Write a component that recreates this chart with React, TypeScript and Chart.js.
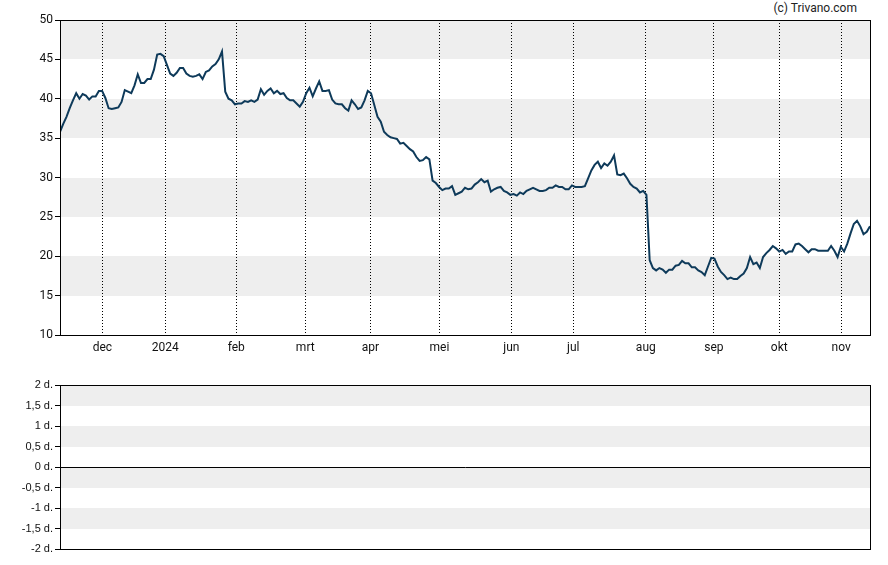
import React, { useEffect, useRef } from "react";
import { Chart, registerables } from "chart.js";

Chart.register(...registerables);

// Closing prices, one per trading day
const prices = [
  35.8, 36.8, 37.7, 38.8, 39.8, 40.7, 40.0, 40.6, 40.4, 39.9,
  40.3, 40.3, 41.0, 41.0, 40.1, 38.8, 38.7, 38.8, 38.9, 39.6,
  41.1, 40.9, 40.7, 41.7, 43.1, 42.0, 42.0, 42.5, 42.5, 43.7,
  45.6, 45.7, 45.4, 44.3, 43.2, 42.9, 43.3, 43.9, 43.9, 43.2,
  42.9, 42.8, 42.9, 43.1, 42.5, 43.4, 43.6, 44.1, 44.4, 45.0,
  46.0, 40.9, 40.0, 39.8, 39.3, 39.4, 39.4, 39.7, 39.6, 39.8,
  39.6, 39.9, 41.2, 40.5, 41.0, 41.3, 40.7, 41.0, 40.6, 40.7,
  40.1, 39.8, 39.8, 39.4, 39.0, 39.6, 40.7, 41.4, 40.3, 41.3,
  42.2, 41.0, 41.0, 41.1, 39.9, 39.4, 39.3, 39.3, 38.8, 38.5,
  39.8, 39.3, 38.7, 38.9, 39.8, 41.0, 40.7, 39.2, 37.7, 37.1,
  35.8, 35.4, 35.1, 35.0, 34.9, 34.3, 34.4, 34.0, 33.6, 33.3,
  32.6, 32.1, 32.2, 32.6, 32.3, 29.6, 29.3, 28.8, 28.4, 28.6,
  28.6, 28.9, 27.8, 28.0, 28.2, 28.7, 28.5, 28.6, 29.1, 29.4,
  29.8, 29.4, 29.6, 28.2, 28.5, 28.7, 28.8, 28.3, 28.1, 27.8,
  27.9, 27.7, 28.1, 27.9, 28.3, 28.5, 28.7, 28.5, 28.3, 28.3,
  28.4, 28.7, 28.7, 29.0, 28.8, 28.8, 28.5, 28.5, 29.0, 28.8,
  28.8, 28.8, 28.9, 29.9, 30.9, 31.6, 32.0, 31.2, 31.8, 31.5,
  32.0, 32.8, 30.4, 30.3, 30.5, 29.9, 29.2, 28.8, 28.6, 28.1,
  28.3, 27.8, 19.5, 18.5, 18.2, 18.5, 18.3, 17.9, 18.3, 18.3,
  18.8, 18.9, 19.4, 19.1, 19.1, 18.6, 18.6, 18.2, 18.0, 17.6,
  18.7, 19.8, 19.7, 18.7, 18.0, 17.6, 17.1, 17.3, 17.1, 17.1,
  17.5, 17.8, 18.5, 19.9, 19.0, 19.2, 18.5, 19.9, 20.4, 20.8,
  21.3, 21.0, 20.6, 20.8, 20.3, 20.6, 20.6, 21.5, 21.6, 21.3,
  20.9, 20.5, 20.9, 20.9, 20.7, 20.7, 20.7, 20.7, 21.3, 20.7,
  19.9, 21.2, 20.6, 21.6, 22.9, 24.1, 24.5, 23.8, 22.8, 23.1,
  23.8,
];

// Month boundaries (trading-day index) and their labels
const monthTickPos = [13.1, 32.5, 54.4, 75.7, 95.8, 117.1, 139.3, 158.4, 180.8, 201.8, 222.0, 241.1];
const monthLabels = ["dec", "2024", "feb", "mrt", "apr", "mei", "jun", "jul", "aug", "sep", "okt", "nov"];

// Price axis
const priceMin = 10;
const priceMax = 50;
const priceStep = 5;
const priceBands = [[15, 20], [25, 30], [35, 40], [45, 50]];

// Lower panel axis
const lowerMin = -2;
const lowerMax = 2;
const lowerStep = 0.5;
const lowerBands = [[-1.5, -1], [-0.5, 0], [0.5, 1], [1.5, 2]];

const copyrightText = "(c) Trivano.com";

const panelPlugin = {
  id: "panel",
  beforeDraw(chart: any, _args: any, opts: any) {
    const { ctx, chartArea } = chart;
    const y = chart.scales.y;
    ctx.save();
    ctx.fillStyle = opts.bandColor || "#eeeeee";
    for (const [a, b] of opts.bands || []) {
      const y1 = Math.round(y.getPixelForValue(b));
      const y2 = Math.round(y.getPixelForValue(a));
      ctx.fillRect(chartArea.left, y1, chartArea.right - chartArea.left, y2 - y1);
    }
    ctx.restore();
  },
  afterDraw(chart: any, _args: any, opts: any) {
    const { ctx, chartArea } = chart;
    ctx.save();
    ctx.strokeStyle = "#000";
    ctx.lineWidth = 1;
    ctx.setLineDash([]);
    const l = Math.round(chartArea.left) + 0.5;
    const t = Math.round(chartArea.top) + 0.5;
    const r = Math.round(chartArea.right) + 0.5;
    const b = Math.round(chartArea.bottom) + 0.5;
    ctx.strokeRect(l, t, r - l, b - t);
    if (opts.zeroLine) {
      const z = Math.round(chart.scales.y.getPixelForValue(0)) + 0.5;
      ctx.beginPath();
      ctx.moveTo(l, z);
      ctx.lineTo(r, z);
      ctx.stroke();
    }
    ctx.restore();
  },
};

export default function App() {
  const topRef = useRef<HTMLCanvasElement>(null);
  const botRef = useRef<HTMLCanvasElement>(null);

  useEffect(() => {
    const topChart = new Chart(topRef.current!, {
      type: "line",
      data: {
        datasets: [
          {
            data: prices.map((v, i) => ({ x: i, y: v })),
            borderColor: "#0e3a5a",
            borderWidth: 2,
            pointRadius: 0,
            tension: 0,
            fill: false,
          },
        ],
      },
      options: {
        animation: false,
        responsive: false,
        devicePixelRatio: 1,
        parsing: false,
        layout: { padding: { top: 20, right: 18, left: 0, bottom: 0 } },
        plugins: {
          legend: { display: false },
          tooltip: { enabled: false },
          panel: { bands: priceBands, zeroLine: false },
        } as any,
        scales: {
          x: {
            type: "linear",
            min: 0,
            max: prices.length - 1,
            afterBuildTicks: (scale: any) => {
              scale.ticks = monthTickPos.map((v) => ({ value: v }));
            },
            afterFit: (scale: any) => {
              scale.height = 25;
            },
            ticks: {
              autoSkip: false,
              maxRotation: 0,
              padding: 6,
              color: "#111",
              font: { family: "Roboto", size: 12 },
              callback: (_v: any, i: number) => monthLabels[i],
            },
            grid: { display: true, color: "#000", lineWidth: 1, drawTicks: false, drawOnChartArea: true },
            border: { display: false, dash: [1, 2] },
          },
          y: {
            type: "linear",
            min: priceMin,
            max: priceMax,
            afterFit: (scale: any) => {
              scale.width = 60;
            },
            ticks: {
              stepSize: priceStep,
              padding: 2,
              color: "#111",
              font: { family: "Roboto", size: 12 },
            },
            grid: { display: true, drawOnChartArea: false, drawTicks: true, tickLength: 5, tickColor: "#000", color: "#000" },
            border: { display: false },
          },
        },
      },
      plugins: [panelPlugin],
    } as any);

    const botChart = new Chart(botRef.current!, {
      type: "line",
      data: {
        datasets: [
          {
            data: [],
            borderColor: "#0e3a5a",
            pointRadius: 0,
          },
        ],
      },
      options: {
        animation: false,
        responsive: false,
        devicePixelRatio: 1,
        parsing: false,
        layout: { padding: { top: 25, right: 18, left: 0, bottom: 16 } },
        plugins: {
          legend: { display: false },
          tooltip: { enabled: false },
          panel: { bands: lowerBands, zeroLine: true },
        } as any,
        scales: {
          x: { type: "linear", min: 0, max: prices.length - 1, display: false },
          y: {
            type: "linear",
            min: lowerMin,
            max: lowerMax,
            afterFit: (scale: any) => {
              scale.width = 60;
            },
            ticks: {
              stepSize: lowerStep,
              padding: 2,
              color: "#111",
              font: { family: "Liberation Sans", size: 11 },
              callback: (v: any) => `${String(v).replace(".", ",")} d.`,
            },
            grid: { display: true, drawOnChartArea: false, drawTicks: true, tickLength: 5, tickColor: "#000", color: "#000" },
            border: { display: false },
          },
        },
      },
      plugins: [panelPlugin],
    } as any);

    return () => {
      topChart.destroy();
      botChart.destroy();
    };
  }, []);

  return (
    <div style={{ position: "absolute", left: 0, top: 0, width: 888, height: 565, background: "#fff" }}>
      <div
        style={{
          position: "absolute",
          left: 0,
          top: 1,
          width: 857,
          textAlign: "right",
          fontFamily: "Roboto",
          fontSize: 12,
          lineHeight: "14px",
          color: "#222",
        }}
      >
        {copyrightText}
      </div>
      <canvas
        ref={topRef}
        width={888}
        height={360}
        style={{ position: "absolute", left: 0, top: 0, width: 888, height: 360 }}
      />
      <canvas
        ref={botRef}
        width={888}
        height={205}
        style={{ position: "absolute", left: 0, top: 360, width: 888, height: 205 }}
      />
    </div>
  );
}
